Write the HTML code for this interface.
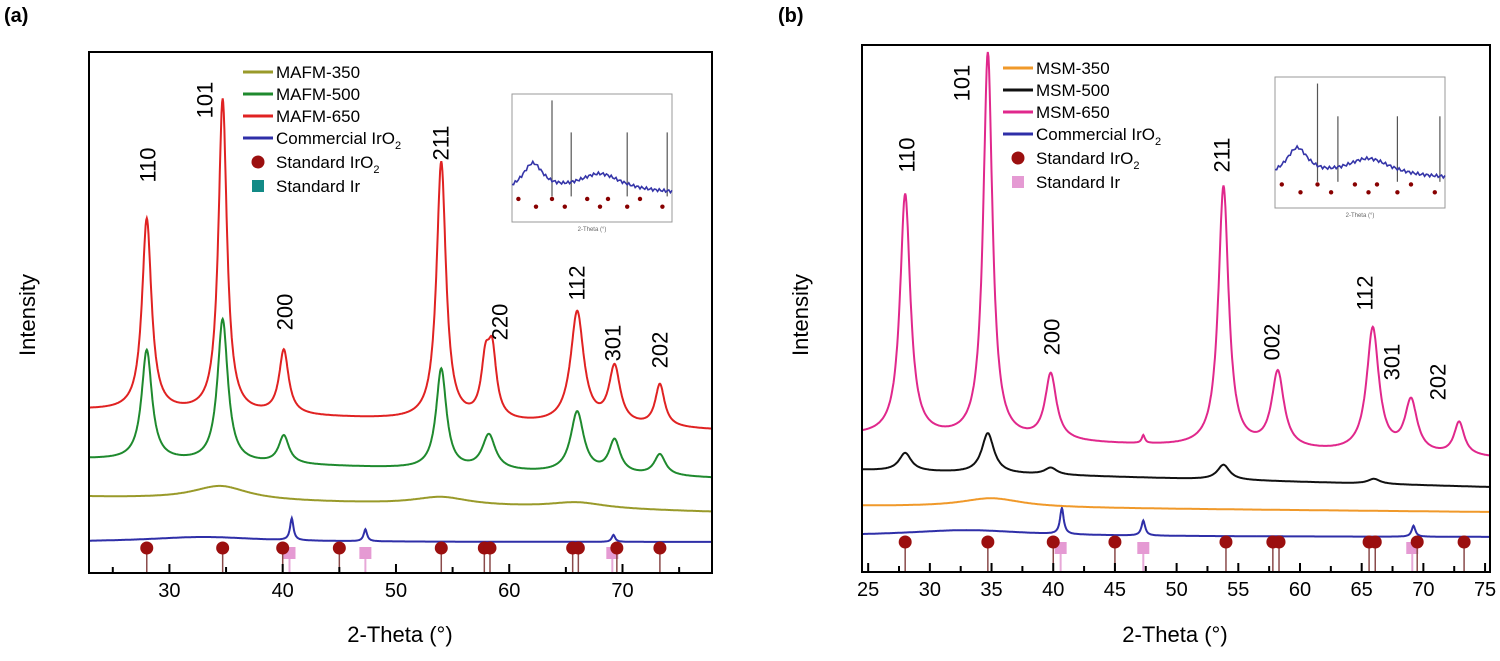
<!DOCTYPE html>
<html><head><meta charset="utf-8"><style>
body{margin:0;background:#fff;}
svg{display:block;font-family:"Liberation Sans",sans-serif;}
</style></head><body>
<svg id="fig" width="1500" height="661" viewBox="0 0 1500 661">
<text x="4" y="22" font-size="20" font-weight="bold">(a)</text>
<text x="778" y="22" font-size="20" font-weight="bold">(b)</text>
<g id="pa"></g>
<g id="pb"></g>
</svg>
<script>
// ---------- Panel (a) data ----------
const aRange=[22.9,77.9];
const aTicksMajor=[30,40,50,60,70];
const aTicksMinor=[25,35,45,55,65,75];
const a650Pos=[28,34.7,40.1,54,57.9,58.5,66,69.3,73.3];
const a650H=[192,314,64,258,52,62,112,57,42];
const a650W=[0.5,0.45,0.5,0.5,0.45,0.45,0.7,0.6,0.5];
const a650Base=[163,143];
const a500Pos=[28,34.7,40.1,54,58.2,66,69.3,73.3];
const a500H=[110,143,28,100,35,61,33,21];
const a500W=[0.55,0.55,0.55,0.55,0.7,0.7,0.6,0.6];
const a500Base=[114,95];
const a350Pos=[34.5,54,66];
const a350H=[14,8,6];
const a350Base=[76,61];
const aComPos=[33,40.8,47.3,69.2];
const aComH=[5,22,12,7];
const aComBase=[31,31];
const aIrO2=[28,34.7,40.0,45.0,54.0,57.8,58.3,65.6,66.1,69.5,73.3];
const aIr=[40.6,47.3,69.1];
const aLabels=["110","101","200","211","220","112","301","202"];
const aLabelPos=[[148,165],[205,100],[285,312],[441,143],[500,322],[577,283],[613,343],[660,350]];
// ---------- Panel (b) data ----------
const bRange=[24.5,75.4];
const bTicksMajor=[25,30,35,40,45,50,55,60,65,70,75];
const bTicksMinor=[27.5,32.5,37.5,42.5,47.5,52.5,57.5,62.5,67.5,72.5];
const b650Pos=[28,34.7,39.8,47.3,53.8,58.2,65.9,69,72.9];
const b650H=[242,386,66,8,261,76,124,52,33];
const b650W=[0.5,0.45,0.55,0.15,0.5,0.6,0.6,0.6,0.5];
const b650Base=[136,114];
const b500Pos=[28,34.7,39.8,53.8,66];
const b500H=[18,40,7,15,5];
const b500Base=[102,85];
const b350Pos=[35];
const b350H=[9];
const b350Base=[66,60];
const bComPos=[33,40.7,47.3,69.2];
const bComH=[6,26,15,11];
const bComBase=[36,35];
const bIrO2=[28,34.7,40.0,45.0,54.0,57.8,58.3,65.6,66.1,69.5,73.3];
const bIr=[40.6,47.3,69.1];
const bLabels=["110","101","200","211","002","112","301","202"];
const bLabelPos=[[907,155],[962,83],[1052,337],[1222,155],[1272,342],[1365,293],[1392,362],[1438,382]];

const NS="http://www.w3.org/2000/svg";
function mk(p,tag,at){const e=document.createElementNS(NS,tag);for(const k in at)e.setAttribute(k,at[k]);p.appendChild(e);return e;}

function panel(g,cfg){
  const L=cfg.box[0],T=cfg.box[1],R=cfg.box[2],B=cfg.box[3];
  const sx=v=>L+(v-cfg.range[0])/(cfg.range[1]-cfg.range[0])*(R-L);
  const sy=i=>B-i;
  cfg.series.forEach(s=>{
    let d="";
    for(let v=cfg.range[0];v<=cfg.range[1]+1e-9;v+=0.05){
      const f=(v-cfg.range[0])/(cfg.range[1]-cfg.range[0]);
      let y=s.base[0]+(s.base[1]-s.base[0])*f;
      s.pos.forEach((p,k)=>{const w=(s.w&&s.w[k])?s.w[k]:((s.wide&&s.wide[k])?s.wide[k]:s.hw);y+=s.h[k]/(1+((v-p)/w)**2);});
      d+=(d?"L":"M")+sx(v).toFixed(1)+","+sy(y).toFixed(1);
    }
    const e=mk(g,"path",{d:d,fill:"none",stroke:s.color,"stroke-width":2});
    
    
  });
  cfg.ir.forEach(v=>{
    const e=mk(g,"line",{x1:sx(v),x2:sx(v),y1:cfg.sqY,y2:B,stroke:"#e7a8d8","stroke-width":2});
    
    
    const r=mk(g,"rect",{x:sx(v)-6,y:cfg.sqY-6,width:12,height:12,fill:"#e59ad3"});
    
    
  });
  cfg.iro2.forEach(v=>{
    const e=mk(g,"line",{x1:sx(v),x2:sx(v),y1:cfg.cY,y2:B,stroke:"#8a4a4a","stroke-width":1.5});
    
    
    const c=mk(g,"circle",{cx:sx(v),cy:cfg.cY,r:6.5,fill:"#9b0f0f"});
    
    
  });
  const f=mk(g,"rect",{x:L,y:T,width:R-L,height:B-T,fill:"none",stroke:"#000","stroke-width":2});
  
  
  cfg.major.forEach(v=>{
    const t=mk(g,"line",{x1:sx(v),x2:sx(v),y1:B,y2:B-9,stroke:"#000","stroke-width":2});
    
    
    const tx=mk(g,"text",{x:sx(v),y:B+24,"font-size":20,"text-anchor":"middle"});
    tx.textContent=v;
    
    
  });
  cfg.minor.forEach(v=>{
    const t=mk(g,"line",{x1:sx(v),x2:sx(v),y1:B,y2:B-6,stroke:"#000","stroke-width":2});
    
    
  });
  cfg.labels.forEach((s,k)=>{
    const p=cfg.labelPos[k];
    const t=mk(g,"text",{x:p[0],y:p[1],"font-size":22,"text-anchor":"middle","dominant-baseline":"central",transform:`rotate(-90 ${p[0]} ${p[1]})`});
    t.textContent=s;
    
    
  });
  const yt=mk(g,"text",{x:cfg.yt[0],y:cfg.yt[1],"font-size":22,"text-anchor":"middle",transform:`rotate(-90 ${cfg.yt[0]} ${cfg.yt[1]})`});
  yt.textContent="Intensity";
  
  
  const xt=mk(g,"text",{x:cfg.xt[0],y:cfg.xt[1],"font-size":22,"text-anchor":"middle"});
  xt.textContent="2-Theta (°)";
  
  
  const lg=mk(g,"g",{});
  
  
  const lx=cfg.leg[0],ly=cfg.leg[1];
  cfg.legOrder.forEach((idx,k)=>{
    const s=cfg.series[idx];
    const y=ly+k*22;
    mk(lg,"line",{x1:lx,x2:lx+30,y1:y,y2:y,stroke:s.color,"stroke-width":3});
    const t=mk(lg,"text",{x:lx+33,y:y+6,"font-size":17});
    t.innerHTML=s.label;
    
    
  });
  let y=ly+4*22+2;
  mk(lg,"circle",{cx:lx+15,cy:y,r:6.5,fill:"#9b0f0f"});
  let t=mk(lg,"text",{x:lx+33,y:y+6,"font-size":17});t.innerHTML='Standard IrO<tspan font-size="11" dy="5">2</tspan>';
  
  
  y+=24;
  mk(lg,"rect",{x:lx+9,y:y-6,width:12,height:12,fill:cfg.irLegColor});
  t=mk(lg,"text",{x:lx+33,y:y+6,"font-size":17});t.textContent='Standard Ir';
  
  
  const ins=mk(g,"g",{});
  
  
  const [ix,iy,iw,ih]=cfg.inset;
  mk(ins,"rect",{x:ix,y:iy,width:iw,height:ih,fill:"#fff",stroke:"#999","stroke-width":1});
  [0.25,0.37,0.72,0.97].forEach((f,k)=>mk(ins,"line",{x1:ix+iw*f,x2:ix+iw*f,y1:iy+ih*(k==0?0.05:0.3),y2:iy+ih*0.8,stroke:"#555","stroke-width":1.2}));
  let d="";
  for(let i=0;i<=100;i++){const f=i/100;const v=ih*(0.78-0.22/(1+((f-0.13)/0.08)**2)-0.15/(1+((f-0.55)/0.17)**2)+0.012*Math.sin(i*2.3));d+=(d?"L":"M")+(ix+iw*f).toFixed(1)+","+(iy+v).toFixed(1);}
  mk(ins,"path",{d:d,fill:"none",stroke:"#3535a8","stroke-width":1.6});
  [0.04,0.15,0.25,0.33,0.47,0.55,0.6,0.72,0.8,0.94].forEach((f,k)=>{mk(ins,"circle",{cx:ix+iw*f,cy:iy+ih*(k%2?0.88:0.82),r:2.2,fill:"#800"});});
  const it=mk(ins,"text",{x:ix+iw/2,y:iy+ih+9,"font-size":6,"text-anchor":"middle",fill:"#666"});it.textContent="2-Theta (°)";
}

panel(document.getElementById('pa'),{
  box:[89,52,712,573],range:aRange,major:aTicksMajor,minor:aTicksMinor,
  series:[
    {name:'series-commercial-iro2',label:'Commercial IrO<tspan font-size="11" dy="5">2</tspan>',color:'#2f2fa8',pos:aComPos,h:aComH,base:aComBase,hw:0.18,wide:[6]},
    {name:'series-mafm-350',label:'MAFM-350',color:'#999a2a',pos:a350Pos,h:a350H,base:a350Base,hw:3},
    {name:'series-mafm-500',label:'MAFM-500',color:'#1f8a2e',pos:a500Pos,h:a500H,base:a500Base,hw:0.55,w:a500W},
    {name:'series-mafm-650',label:'MAFM-650',color:'#e02222',pos:a650Pos,h:a650H,base:a650Base,hw:0.5,w:a650W}
  ],
  legOrder:[1,2,3,0],
  iro2:aIrO2,ir:aIr,cY:548,sqY:553,labels:aLabels,labelPos:aLabelPos,
  yt:[35,315],xt:[400,642],leg:[243,72],irLegColor:'#128a86',inset:[512,94,160,128]
});
panel(document.getElementById('pb'),{
  box:[862,45,1490,572],range:bRange,major:bTicksMajor,minor:bTicksMinor,
  series:[
    {name:'series-commercial-iro2',label:'Commercial IrO<tspan font-size="11" dy="5">2</tspan>',color:'#2f2fa8',pos:bComPos,h:bComH,base:bComBase,hw:0.18,wide:[6]},
    {name:'series-msm-350',label:'MSM-350',color:'#f0992a',pos:b350Pos,h:b350H,base:b350Base,hw:3},
    {name:'series-msm-500',label:'MSM-500',color:'#111111',pos:b500Pos,h:b500H,base:b500Base,hw:0.6},
    {name:'series-msm-650',label:'MSM-650',color:'#e0288c',pos:b650Pos,h:b650H,base:b650Base,hw:0.5,w:b650W}
  ],
  legOrder:[1,2,3,0],
  iro2:bIrO2,ir:bIr,cY:542,sqY:548,labels:bLabels,labelPos:bLabelPos,
  yt:[808,315],xt:[1175,642],leg:[1003,68],irLegColor:'#e59ad3',inset:[1275,77,170,131]
});
</script>
</body></html>
